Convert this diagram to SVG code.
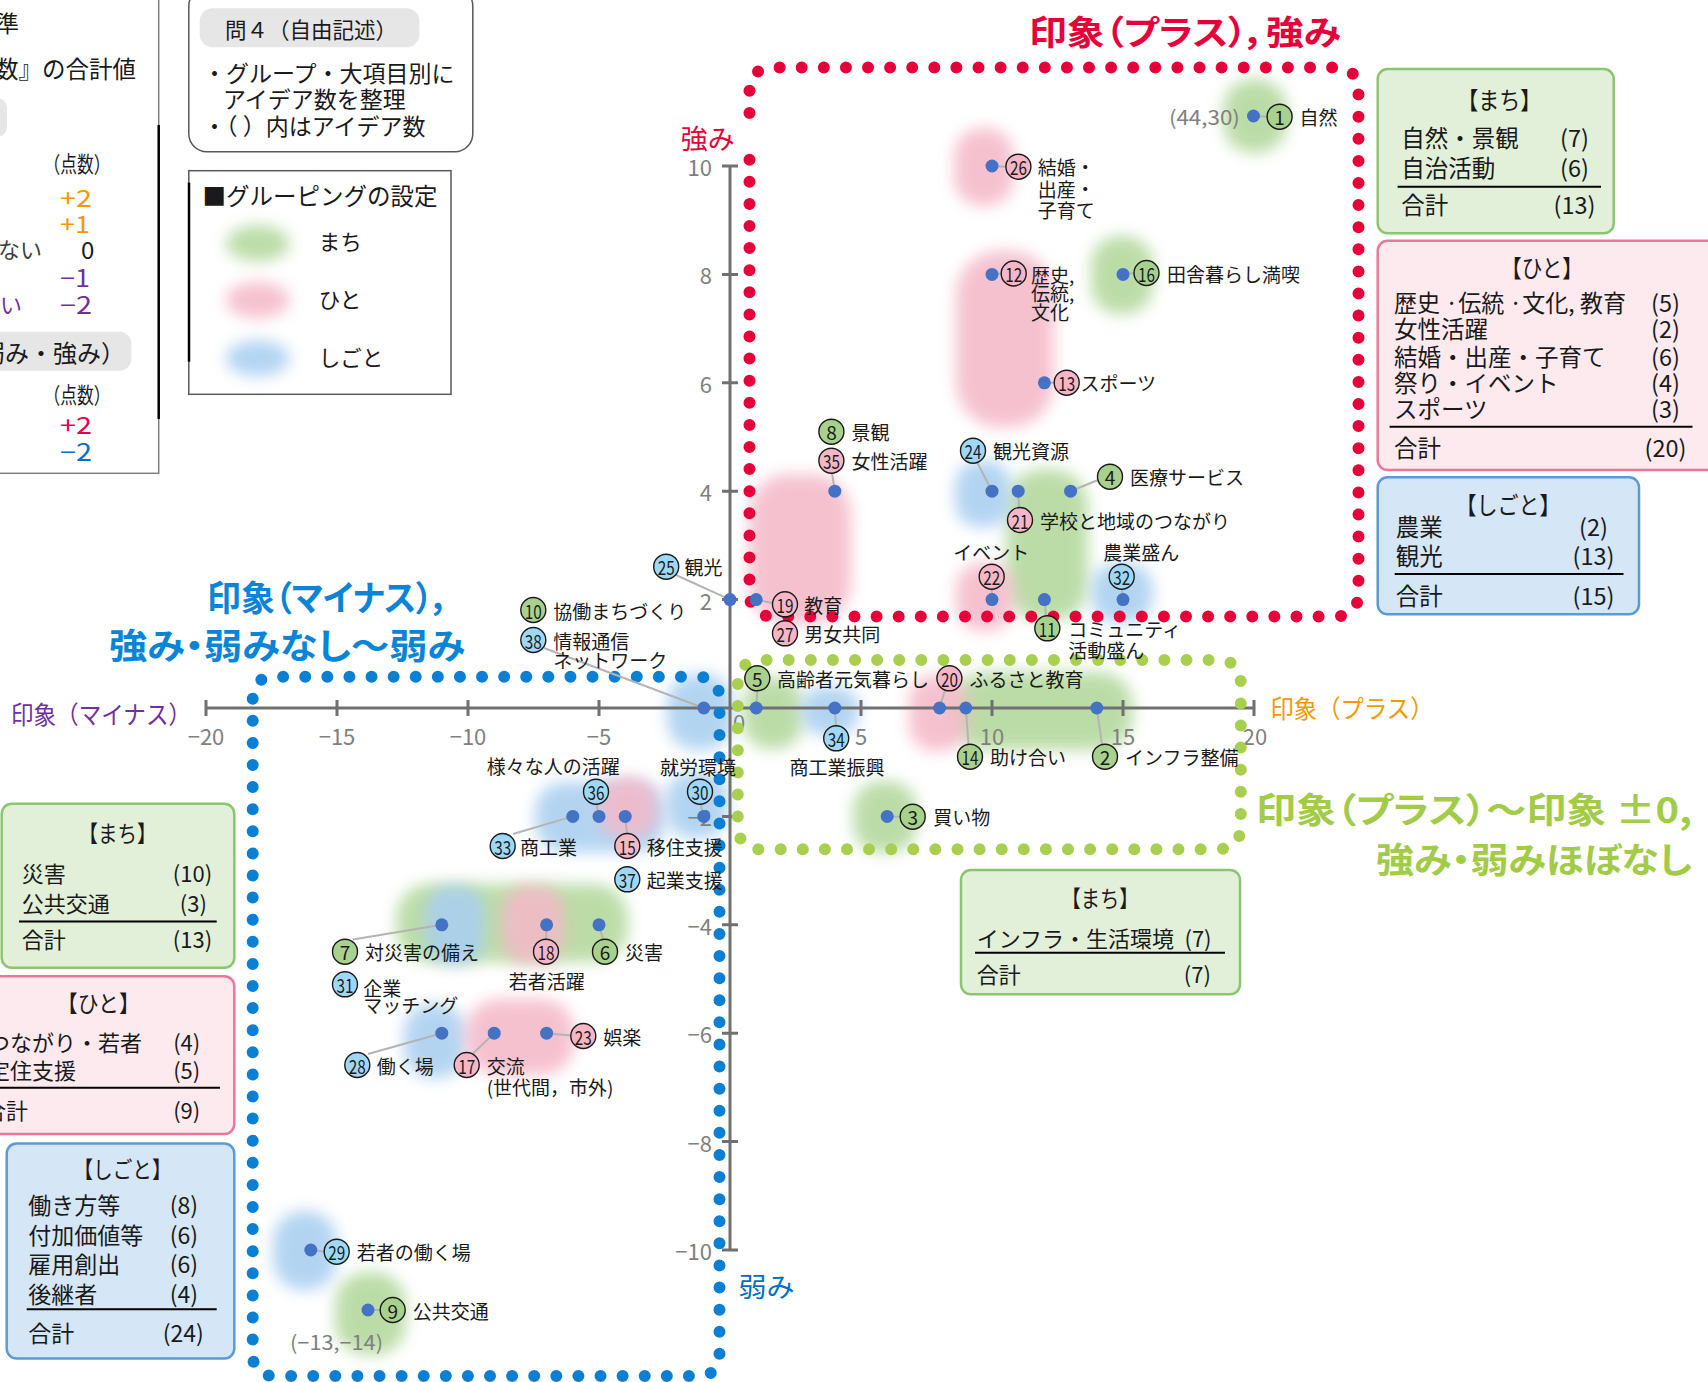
<svg xmlns="http://www.w3.org/2000/svg" width="1708" height="1382" viewBox="0 0 1708 1382">
<defs>
<filter id="bl" x="-60%" y="-60%" width="220%" height="220%"><feGaussianBlur stdDeviation="7.5"/></filter>
<style>
text{font-family:"Noto Sans CJK JP","Noto Sans",sans-serif;dominant-baseline:central;fill:#1a1a1a}
.l{font-size:19px}
.n{font-size:19px;text-anchor:middle}
.cg{fill:#a9d18e;stroke:#1a1a1a;stroke-width:1.4}
.cp{fill:#f5b7c7;stroke:#1a1a1a;stroke-width:1.4}
.cb{fill:#9fd8f6;stroke:#1a1a1a;stroke-width:1.4}
.pt{fill:#4472c4}
.ld{stroke:#b4b4b4;stroke-width:2;fill:none}
.ax{stroke:#707070;stroke-width:3;fill:none}
.tk{fill:#808080;font-size:22px}
.gy{fill:#808080;font-size:20px}
.bg{fill:#b3d89c}.bp{fill:#f4b9c9}.bb{fill:#a9cff0}
.blob{filter:url(#bl);opacity:0.88}
.ttl{font-weight:700;font-feature-settings:"palt"}
.bx{font-size:23.5px}
.bs{font-size:22px}
.ctr{text-anchor:middle}
.dr{fill:none;stroke:#e60039;stroke-width:12;stroke-linecap:round;stroke-dasharray:0 22.1}
.db{fill:none;stroke:#0a7fd3;stroke-width:12;stroke-linecap:round;stroke-dasharray:0 22.1}
.dg{fill:none;stroke:#a8cf4f;stroke-width:12;stroke-linecap:round;stroke-dasharray:0 22.1}
</style>
</defs>
<rect width="1708" height="1382" fill="#fff"/>

<!-- blobs -->
<g id="blobs">
<rect class="blob bg" x="1223" y="79" width="64" height="74" rx="30"/>
<rect class="blob bp" x="954" y="128" width="60" height="78" rx="28"/>
<rect class="blob bp" x="956" y="251" width="98" height="176" rx="44"/>
<rect class="blob bg" x="1091" y="236" width="62" height="78" rx="28"/>
<rect class="blob bp" x="749" y="474" width="102" height="150" rx="40"/>
<rect class="blob bg" x="1006" y="469" width="82" height="152" rx="36"/>
<rect class="blob bb" x="955" y="461" width="56" height="66" rx="24"/>
<rect class="blob bp" x="956" y="563" width="58" height="68" rx="26"/>
<rect class="blob bb" x="1091" y="563" width="62" height="60" rx="26"/>
<rect class="blob bg" x="951" y="672" width="182" height="78" rx="34"/>
<rect class="blob bp" x="909" y="675" width="58" height="76" rx="26"/>
<rect class="blob bg" x="743" y="677" width="60" height="72" rx="27"/>
<rect class="blob bb" x="801" y="687" width="58" height="48" rx="22"/>
<rect class="blob bg" x="853" y="781" width="64" height="72" rx="28"/>
<rect class="blob bb" x="667" y="674" width="66" height="76" rx="30"/>
<rect class="blob bb" x="535" y="782" width="130" height="70" rx="30"/>
<rect class="blob bb" x="666" y="772" width="62" height="66" rx="26"/>
<rect class="blob bp" x="599" y="777" width="58" height="62" rx="26"/>
<rect class="blob bg" x="396" y="884" width="232" height="78" rx="34"/>
<rect class="blob bb" x="425" y="886" width="60" height="78" rx="26"/>
<rect class="blob bp" x="502" y="886" width="62" height="78" rx="26"/>
<rect class="blob bb" x="404" y="1004" width="62" height="74" rx="28"/>
<rect class="blob bp" x="465" y="999" width="110" height="76" rx="34"/>
<rect class="blob bb" x="273" y="1211" width="64" height="79" rx="30"/>
<rect class="blob bg" x="335" y="1272" width="71" height="83" rx="32"/>
</g>

<!-- scoring legend (cut at left) -->
<g id="legend-scoring">
<rect x="-20" y="-20" width="178.7" height="493.3" fill="none" stroke="#7f7f7f" stroke-width="1.5"/>
<line x1="158.7" y1="125" x2="158.7" y2="419" stroke="#000" stroke-width="2.5"/>
<text x="-4" y="22" font-size="23">準</text>
<text x="-5" y="68" font-size="23.5">数』の合計値</text>
<rect x="-20" y="98" width="27" height="39" rx="10" fill="#e6e6e6"/>
<text x="43.6" y="161.7" font-size="22" textLength="67" lengthAdjust="spacingAndGlyphs">（点数）</text>
<text x="60" y="196.7" font-size="24" style="fill:#f39800" textLength="32" lengthAdjust="spacingAndGlyphs">+2</text>
<text x="60" y="222.7" font-size="24" style="fill:#f39800" textLength="30" lengthAdjust="spacingAndGlyphs">+1</text>
<text x="-2" y="248" font-size="22" style="fill:#404040">ない</text>
<text x="81" y="248" font-size="24">0</text>
<text x="60" y="276" font-size="24" style="fill:#7030a0" textLength="30" lengthAdjust="spacingAndGlyphs">−1</text>
<text x="0" y="303" font-size="22" style="fill:#7030a0">い</text>
<text x="60" y="303" font-size="24" style="fill:#7030a0" textLength="32" lengthAdjust="spacingAndGlyphs">−2</text>
<rect x="-20" y="331.7" width="151.4" height="39" rx="12" fill="#e6e6e6"/>
<text x="-19" y="351.7" font-size="24">弱み・強み）</text>
<text x="43.6" y="393" font-size="22" textLength="67" lengthAdjust="spacingAndGlyphs">（点数）</text>
<text x="60" y="423" font-size="24" style="fill:#e6004c" textLength="32" lengthAdjust="spacingAndGlyphs">+2</text>
<text x="60" y="450" font-size="24" style="fill:#0070c0" textLength="32" lengthAdjust="spacingAndGlyphs">−2</text>
</g>

<!-- Q4 box -->
<g id="box-q4">
<rect x="188.8" y="-12" width="284" height="163.7" rx="18" fill="#fff" stroke="#595959" stroke-width="1.5"/>
<rect x="199.7" y="8.3" width="219.7" height="39" rx="13" fill="#e6e6e6"/>
<text x="225" y="28.3" font-size="22" textLength="172" lengthAdjust="spacingAndGlyphs">問４（自由記述）</text>
<text x="203" y="71.7" font-size="23">・グループ・大項目別に</text>
<text x="223" y="98.3" font-size="23">アイデア数を整理</text>
<text x="203" y="125" font-size="23">・（ ）内はアイデア数</text>
</g>

<!-- grouping legend -->
<g id="legend-grouping">
<rect x="188.8" y="170.7" width="262.2" height="223.6" fill="#fff" stroke="#595959" stroke-width="1.5"/>
<line x1="189" y1="182.7" x2="189" y2="361.7" stroke="#000" stroke-width="2.5"/>
<text x="202.6" y="195" font-size="23.5">■グルーピングの設定</text>
<ellipse class="blob bg" cx="257.8" cy="243.3" rx="32" ry="18"/>
<ellipse class="blob bp" cx="257.8" cy="300" rx="32" ry="18"/>
<ellipse class="blob bb" cx="257.8" cy="358.3" rx="32" ry="18"/>
<text x="318.8" y="240" font-size="21.5">まち</text>
<text x="318.8" y="298" font-size="21.5">ひと</text>
<text x="318.8" y="356.7" font-size="21.5">しごと</text>
</g>

<!-- titles -->
<g id="titles">
<text class="ttl" x="1029" y="30" font-size="34" style="fill:#e60039" textLength="312" lengthAdjust="spacingAndGlyphs">印象（プラス），強み</text>
<text class="ttl" x="207" y="595" font-size="35" style="fill:#0a84d6" textLength="243" lengthAdjust="spacingAndGlyphs">印象（マイナス），</text>
<text class="ttl" x="109" y="643" font-size="35" style="fill:#0a84d6" textLength="356" lengthAdjust="spacingAndGlyphs">強み・弱みなし～弱み</text>
<text class="ttl" x="1256" y="807" font-size="35" style="fill:#a2cb48" textLength="436" lengthAdjust="spacingAndGlyphs">印象（プラス）～印象 ±0,</text>
<text class="ttl" x="1376" y="857" font-size="35" style="fill:#a2cb48" textLength="316" lengthAdjust="spacingAndGlyphs">強み・弱みほぼなし</text>
</g>

<!-- axes -->
<g id="axes">
<path class="ax" d="M206 708H1254M730 166V1250"/>
<path class="ax" stroke-width="2" d="M206 700V716M337 700V716M468 700V716M599 700V716M861 700V716M992 700V716M1123 700V716M1254 700V716M722 166H738M722 274.4H738M722 382.8H738M722 491.2H738M722 599.6H738M722 816.4H738M722 924.8H738M722 1033.2H738M722 1141.6H738M722 1250H738"/>
<text class="tk ctr" x="206" y="735">−20</text>
<text class="tk ctr" x="337" y="735">−15</text>
<text class="tk ctr" x="468" y="735">−10</text>
<text class="tk ctr" x="599" y="735">−5</text>
<text class="tk ctr" x="739" y="721">0</text>
<text class="tk ctr" x="861" y="735">5</text>
<text class="tk ctr" x="992" y="735">10</text>
<text class="tk ctr" x="1123" y="735">15</text>
<text class="tk ctr" x="1255" y="735">20</text>
<text class="tk" x="712" y="166" text-anchor="end">10</text>
<text class="tk" x="712" y="274.4" text-anchor="end">8</text>
<text class="tk" x="712" y="382.8" text-anchor="end">6</text>
<text class="tk" x="712" y="491.2" text-anchor="end">4</text>
<text class="tk" x="712" y="599.6" text-anchor="end">2</text>
<text class="tk" x="712" y="816.4" text-anchor="end">−2</text>
<text class="tk" x="712" y="924.8" text-anchor="end">−4</text>
<text class="tk" x="712" y="1033.2" text-anchor="end">−6</text>
<text class="tk" x="712" y="1141.6" text-anchor="end">−8</text>
<text class="tk" x="712" y="1250" text-anchor="end">−10</text>
<text x="680.7" y="137" font-size="27" style="fill:#e60039" textLength="54" lengthAdjust="spacingAndGlyphs">強み</text>
<text x="738.5" y="1285" font-size="27" style="fill:#0070c0" textLength="56" lengthAdjust="spacingAndGlyphs">弱み</text>
<text x="11" y="713" font-size="25" style="fill:#7030a0" textLength="180" lengthAdjust="spacingAndGlyphs">印象（マイナス）</text>
<text x="1270.5" y="707" font-size="25" style="fill:#f39800" textLength="163" lengthAdjust="spacingAndGlyphs">印象（プラス）</text>
</g>

<!-- dotted regions -->
<g id="regions">
<path class="dr" d="M749.5 159.7V592.5Q749.5 616.5 773.5 616.5H1334.5Q1358.5 616.5 1358.5 592.5V91.5Q1358.5 67.5 1334.5 67.5H773.5Q749.5 67.5 749.5 91.5V116"/>
<path class="db" d="M252.7 698.7V1354Q252.7 1376 274.7 1376H697.5Q719.5 1376 719.5 1354V698.7Q719.5 676.7 697.5 676.7H274.7Q252.7 676.7 252.7 698.7"/>
<path class="dg" d="M737.8 684V825.3Q737.8 849.3 761.8 849.3H1216.8Q1240.8 849.3 1240.8 825.3V684Q1240.8 660 1216.8 660H761.8Q737.8 660 737.8 684"/>
</g>

<!-- summary boxes -->
<g id="box-machi-top">
<rect x="1377.7" y="69" width="236" height="164.3" rx="10" fill="#e2efd9" stroke="#8cc56f" stroke-width="2.5"/>
<text class="ctr" x="1499.3" y="98.3" font-size="24" textLength="84" lengthAdjust="spacingAndGlyphs">【まち】</text>
<text class="bx" x="1401.3" y="136.7">自然・景観</text>
<text class="bx ctr" x="1574.5" y="136.7">(7)</text>
<text class="bx" x="1401.3" y="166.7">自治活動</text>
<text class="bx ctr" x="1574.5" y="166.7">(6)</text>
<line x1="1397.6" y1="186.7" x2="1601" y2="186.7" stroke="#000" stroke-width="2"/>
<text class="bx" x="1401.3" y="204">合計</text>
<text class="bx ctr" x="1574.5" y="204">(13)</text>
</g>
<g id="box-hito-top">
<rect x="1377.7" y="240.7" width="340" height="229.3" rx="10" fill="#fdeaef" stroke="#e9789c" stroke-width="2.5"/>
<text class="ctr" x="1542" y="266.7" font-size="24" textLength="82" lengthAdjust="spacingAndGlyphs">【ひと】</text>
<text class="bx" x="1394" y="301.7" textLength="232" lengthAdjust="spacingAndGlyphs">歴史 ·伝統 ·文化, 教育</text>
<text class="bx ctr" x="1665.5" y="301.7">(5)</text>
<text class="bx" x="1394" y="328.3">女性活躍</text>
<text class="bx ctr" x="1665.5" y="328.3">(2)</text>
<text class="bx" x="1394" y="356">結婚・出産・子育て</text>
<text class="bx ctr" x="1665.5" y="356">(6)</text>
<text class="bx" x="1394" y="381.7">祭り・イベント</text>
<text class="bx ctr" x="1665.5" y="381.7">(4)</text>
<text class="bx" x="1394" y="408.3">スポーツ</text>
<text class="bx ctr" x="1665.5" y="408.3">(3)</text>
<line x1="1389.6" y1="426.7" x2="1692.5" y2="426.7" stroke="#000" stroke-width="2"/>
<text class="bx" x="1394" y="446.7">合計</text>
<text class="bx ctr" x="1665.5" y="446.7">(20)</text>
</g>
<g id="box-shigoto-top">
<rect x="1377.7" y="477.3" width="261.3" height="137" rx="10" fill="#d5e6f6" stroke="#5b9bd5" stroke-width="2.5"/>
<text class="ctr" x="1508" y="503.3" font-size="24" textLength="105" lengthAdjust="spacingAndGlyphs">【しごと】</text>
<text class="bx" x="1395.8" y="526">農業</text>
<text class="bx ctr" x="1593.5" y="526">(2)</text>
<text class="bx" x="1395.8" y="555">観光</text>
<text class="bx ctr" x="1593.5" y="555">(13)</text>
<line x1="1394.7" y1="574" x2="1623.5" y2="574" stroke="#000" stroke-width="2"/>
<text class="bx" x="1395.8" y="595">合計</text>
<text class="bx ctr" x="1593.5" y="595">(15)</text>
</g>
<g id="box-machi-mid">
<rect x="961" y="870" width="279" height="124.3" rx="10" fill="#e2efd9" stroke="#8cc56f" stroke-width="2.5"/>
<text class="ctr" x="1100" y="896.7" font-size="23" textLength="77" lengthAdjust="spacingAndGlyphs">【まち】</text>
<text class="bs" x="976.7" y="936.7">インフラ・生活環境</text>
<text class="bs ctr" x="1198" y="936.7">(7)</text>
<line x1="975" y1="952.7" x2="1225" y2="952.7" stroke="#000" stroke-width="2"/>
<text class="bs" x="976.7" y="973.3">合計</text>
<text class="bs ctr" x="1197.4" y="973.3">(7)</text>
</g>
<g id="box-machi-left">
<rect x="1.7" y="803.7" width="232.6" height="164.1" rx="10" fill="#e2efd9" stroke="#8cc56f" stroke-width="2.5"/>
<text class="ctr" x="117.5" y="831.6" font-size="23" textLength="78" lengthAdjust="spacingAndGlyphs">【まち】</text>
<text class="bs" x="21.7" y="872.4">災害</text>
<text class="bs ctr" x="192.5" y="872.4">(10)</text>
<text class="bs" x="21.7" y="902">公共交通</text>
<text class="bs ctr" x="193.3" y="902">(3)</text>
<line x1="19" y1="921.4" x2="216.7" y2="921.4" stroke="#000" stroke-width="2"/>
<text class="bs" x="21.7" y="938">合計</text>
<text class="bs ctr" x="192.5" y="938">(13)</text>
</g>
<g id="box-hito-left">
<rect x="-20" y="976.3" width="254.3" height="157.7" rx="10" fill="#fdeaef" stroke="#e9789c" stroke-width="2.5"/>
<text class="ctr" x="98.3" y="1002.3" font-size="23" textLength="83" lengthAdjust="spacingAndGlyphs">【ひと】</text>
<text class="bs" x="-12" y="1040.5">つながり・若者</text>
<text class="bs ctr" x="186.7" y="1040.5">(4)</text>
<text class="bs" x="-12" y="1069">定住支援</text>
<text class="bs ctr" x="186.7" y="1069">(5)</text>
<line x1="-5" y1="1087.7" x2="220" y2="1087.7" stroke="#000" stroke-width="2"/>
<text class="bs" x="-16" y="1108.8">合計</text>
<text class="bs ctr" x="186.7" y="1108.8">(9)</text>
</g>
<g id="box-shigoto-left">
<rect x="6.7" y="1143.4" width="227.6" height="215.2" rx="10" fill="#d5e6f6" stroke="#5b9bd5" stroke-width="2.5"/>
<text class="ctr" x="122.5" y="1167.5" font-size="23" textLength="98" lengthAdjust="spacingAndGlyphs">【しごと】</text>
<text x="28.3" y="1203.9" font-size="23">働き方等</text>
<text class="ctr" x="184" y="1203.9" font-size="23">(8)</text>
<text x="28.3" y="1233.6" font-size="23">付加価値等</text>
<text class="ctr" x="184" y="1233.6" font-size="23">(6)</text>
<text x="28.3" y="1263.3" font-size="23">雇用創出</text>
<text class="ctr" x="184" y="1263.3" font-size="23">(6)</text>
<text x="28.3" y="1293" font-size="23">後継者</text>
<text class="ctr" x="184" y="1293" font-size="23">(4)</text>
<line x1="26.7" y1="1309.3" x2="216.7" y2="1309.3" stroke="#000" stroke-width="2"/>
<text x="28.3" y="1331.6" font-size="23">合計</text>
<text class="ctr" x="183.3" y="1331.6" font-size="23">(24)</text>
</g>

<!-- connectors (leader lines) -->
<g id="connectors">
<path class="ld" d="M1253.5 116L1267 116.7"/>
<path class="ld" d="M992 166L1006 166.7"/>
<path class="ld" d="M992 274.4L1001 273.5"/>
<path class="ld" d="M1044.4 382.8L1054 382.7"/>
<path class="ld" d="M1123 274.4L1134 273"/>
<path class="ld" d="M834.8 491.2L832 473"/>
<path class="ld" d="M992 491.2L977 462"/>
<path class="ld" d="M1018.2 491.2L1019 507.5"/>
<path class="ld" d="M1070.6 491.2L1098 480"/>
<path class="ld" d="M730 599.6L676 575"/>
<path class="ld" d="M756.2 599.6L772.5 603"/>
<path class="ld" d="M992 599.6L991.7 589"/>
<path class="ld" d="M1123 599.6L1122 589"/>
<path class="ld" d="M1044.4 599.6L1046 616"/>
<path class="ld" d="M703.8 708L544 648"/>
<path class="ld" d="M756.2 708L757.3 691"/>
<path class="ld" d="M939.6 708L945 690"/>
<path class="ld" d="M834.8 708L836 726"/>
<path class="ld" d="M965.8 708L968.5 744"/>
<path class="ld" d="M1096.8 708L1102 744.5"/>
<path class="ld" d="M887.2 816.4L900 816.7"/>
<path class="ld" d="M599 816.4L596.5 804"/>
<path class="ld" d="M703.8 816.4L700.5 804"/>
<path class="ld" d="M572.8 816.4L513 834"/>
<path class="ld" d="M625.2 816.4L627 833.5"/>
<path class="ld" d="M441.8 924.8L353 939.5"/>
<path class="ld" d="M546.6 924.8L546 939"/>
<path class="ld" d="M599 924.8L603 940"/>
<path class="ld" d="M441.8 1033.2L368 1054"/>
<path class="ld" d="M494.2 1033.2L473 1053.5"/>
<path class="ld" d="M546.6 1033.2L571 1035.5"/>
<path class="ld" d="M310.8 1250L324 1251.5"/>
<path class="ld" d="M368 1310L380 1310"/>
</g>

<!-- nodes -->
<g id="n1"><circle class="pt" cx="1253.5" cy="116" r="6.5"/><circle class="cg" cx="1279.6" cy="116.7" r="12.5"/><text class="n" x="1279.6" y="116.7">1</text><text class="l" x="1299.6" y="116.7">自然</text><text class="gy" x="1168.9" y="116.7" textLength="71" lengthAdjust="spacingAndGlyphs">(44,30)</text></g>
<g id="n26"><circle class="pt" cx="992" cy="166" r="6.5"/><circle class="cp" cx="1018.4" cy="166.7" r="12.5"/><text class="n" x="1018.4" y="166.7" textLength="17" lengthAdjust="spacingAndGlyphs">26</text><text class="l" x="1037.7" y="166.7">結婚・</text><text class="l" x="1037.7" y="188">出産・</text><text class="l" x="1037.7" y="209.3">子育て</text></g>
<g id="n12"><circle class="pt" cx="992" cy="274.4" r="6.5"/><circle class="cp" cx="1013.7" cy="273.5" r="12.5"/><text class="n" x="1013.7" y="273.5" textLength="17" lengthAdjust="spacingAndGlyphs">12</text><text class="l" x="1031" y="274">歴史,</text><text class="l" x="1031" y="292.7">伝統,</text><text class="l" x="1031" y="311.7">文化</text></g>
<g id="n13"><circle class="pt" cx="1044.4" cy="382.8" r="6.5"/><circle class="cp" cx="1066.7" cy="382.7" r="12.5"/><text class="n" x="1066.7" y="382.7" textLength="17" lengthAdjust="spacingAndGlyphs">13</text><text class="l" x="1080.5" y="382.7">スポーツ</text></g>
<g id="n16"><circle class="pt" cx="1123" cy="274.4" r="6.5"/><circle class="cg" cx="1146.5" cy="273" r="12.5"/><text class="n" x="1146.5" y="273" textLength="17" lengthAdjust="spacingAndGlyphs">16</text><text class="l" x="1167" y="273">田舎暮らし満喫</text></g>
<g id="n8"><circle class="cg" cx="831.4" cy="431.7" r="12.5"/><text class="n" x="831.4" y="431.7">8</text><text class="l" x="851.4" y="431.7">景観</text></g>
<g id="n35"><circle class="pt" cx="834.8" cy="491.2" r="6.5"/><circle class="cp" cx="831.4" cy="460.7" r="12.5"/><text class="n" x="831.4" y="460.7" textLength="17" lengthAdjust="spacingAndGlyphs">35</text><text class="l" x="851.4" y="460.7">女性活躍</text></g>
<g id="n24"><circle class="pt" cx="992" cy="491.2" r="6.5"/><circle class="cb" cx="973" cy="450.7" r="12.5"/><text class="n" x="973" y="450.7" textLength="17" lengthAdjust="spacingAndGlyphs">24</text><text class="l" x="993" y="450.7">観光資源</text></g>
<g id="n21"><circle class="pt" cx="1018.2" cy="491.2" r="6.5"/><circle class="cp" cx="1020" cy="520" r="12.5"/><text class="n" x="1020" y="520" textLength="17" lengthAdjust="spacingAndGlyphs">21</text><text class="l" x="1040" y="520">学校と地域のつながり</text></g>
<g id="n4"><circle class="pt" cx="1070.6" cy="491.2" r="6.5"/><circle class="cg" cx="1110" cy="476.7" r="12.5"/><text class="n" x="1110" y="476.7">4</text><text class="l" x="1130" y="476.7">医療サービス</text></g>
<g id="n22"><circle class="pt" cx="992" cy="599.6" r="6.5"/><text class="l" x="953.3" y="551.7">イベント</text><circle class="cp" cx="991.7" cy="576.7" r="12.5"/><text class="n" x="991.7" y="576.7" textLength="17" lengthAdjust="spacingAndGlyphs">22</text></g>
<g id="n32"><circle class="pt" cx="1123" cy="599.6" r="6.5"/><text class="l" x="1103.3" y="551.7">農業盛ん</text><circle class="cb" cx="1121.7" cy="576.7" r="12.5"/><text class="n" x="1121.7" y="576.7" textLength="17" lengthAdjust="spacingAndGlyphs">32</text></g>
<g id="n11"><circle class="pt" cx="1044.4" cy="599.6" r="6.5"/><circle class="cg" cx="1047.3" cy="628.3" r="12.5"/><text class="n" x="1047.3" y="628.3" textLength="17" lengthAdjust="spacingAndGlyphs">11</text><text class="l" x="1068.3" y="628.3">コミュニティ</text><text class="l" x="1068.3" y="649.5">活動盛ん</text></g>
<g id="n25"><circle class="pt" cx="730" cy="599.6" r="6.5"/><circle class="cb" cx="666.2" cy="566.7" r="12.5"/><text class="n" x="666.2" y="566.7" textLength="17" lengthAdjust="spacingAndGlyphs">25</text><text class="l" x="684.4" y="566.7">観光</text></g>
<g id="n19"><circle class="pt" cx="756.2" cy="599.6" r="6.5"/><circle class="cp" cx="785" cy="604.3" r="12.5"/><text class="n" x="785" y="604.3" textLength="17" lengthAdjust="spacingAndGlyphs">19</text><text class="l" x="804.2" y="604.3">教育</text></g>
<g id="n27"><circle class="cp" cx="785" cy="633.3" r="12.5"/><text class="n" x="785" y="633.3" textLength="17" lengthAdjust="spacingAndGlyphs">27</text><text class="l" x="804.2" y="633.3">男女共同</text></g>
<g id="n10"><circle class="cg" cx="533.3" cy="610" r="12.5"/><text class="n" x="533.3" y="610" textLength="17" lengthAdjust="spacingAndGlyphs">10</text><text class="l" x="553.3" y="610">協働まちづくり</text></g>
<g id="n38"><circle class="pt" cx="703.8" cy="708" r="6.5"/><circle class="cb" cx="533.3" cy="640" r="12.5"/><text class="n" x="533.3" y="640" textLength="17" lengthAdjust="spacingAndGlyphs">38</text><text class="l" x="553.3" y="640">情報通信</text><text class="l" x="553.3" y="659.3">ネットワーク</text></g>
<g id="n5"><circle class="pt" cx="756.2" cy="708" r="6.5"/><circle class="cg" cx="757.3" cy="678.3" r="12.5"/><text class="n" x="757.3" y="678.3">5</text><text class="l" x="777" y="678.3">高齢者元気暮らし</text></g>
<g id="n20"><circle class="pt" cx="939.6" cy="708" r="6.5"/><circle class="cp" cx="949.4" cy="678.3" r="12.5"/><text class="n" x="949.4" y="678.3" textLength="17" lengthAdjust="spacingAndGlyphs">20</text><text class="l" x="969.4" y="678.3">ふるさと教育</text></g>
<g id="n34"><circle class="pt" cx="834.8" cy="708" r="6.5"/><circle class="cb" cx="836.2" cy="738.3" r="12.5"/><text class="n" x="836.2" y="738.3" textLength="17" lengthAdjust="spacingAndGlyphs">34</text><text class="l ctr" x="836.9" y="766.7">商工業振興</text></g>
<g id="n14"><circle class="pt" cx="965.8" cy="708" r="6.5"/><circle class="cg" cx="970" cy="756.7" r="12.5"/><text class="n" x="970" y="756.7" textLength="17" lengthAdjust="spacingAndGlyphs">14</text><text class="l" x="990" y="756.7">助け合い</text></g>
<g id="n2"><circle class="pt" cx="1096.8" cy="708" r="6.5"/><circle class="cg" cx="1105" cy="756.7" r="12.5"/><text class="n" x="1105" y="756.7">2</text><text class="l" x="1125" y="756.7">インフラ整備</text></g>
<g id="n3"><circle class="pt" cx="887.2" cy="816.4" r="6.5"/><circle class="cg" cx="912.7" cy="816.7" r="12.5"/><text class="n" x="912.7" y="816.7">3</text><text class="l" x="933.3" y="816.7">買い物</text></g>
<g id="n36"><circle class="pt" cx="599" cy="816.4" r="6.5"/><text class="l" x="486.7" y="765">様々な人の活躍</text><circle class="cb" cx="596" cy="791.7" r="12.5"/><text class="n" x="596" y="791.7" textLength="17" lengthAdjust="spacingAndGlyphs">36</text></g>
<g id="n30"><circle class="pt" cx="703.8" cy="816.4" r="6.5"/><text class="l" x="660" y="766.7">就労環境</text><circle class="cb" cx="700" cy="791.7" r="12.5"/><text class="n" x="700" y="791.7" textLength="17" lengthAdjust="spacingAndGlyphs">30</text></g>
<g id="n33"><circle class="pt" cx="572.8" cy="816.4" r="6.5"/><circle class="cb" cx="502.7" cy="846" r="12.5"/><text class="n" x="502.7" y="846" textLength="17" lengthAdjust="spacingAndGlyphs">33</text><text class="l" x="520" y="846">商工業</text></g>
<g id="n15"><circle class="pt" cx="625.2" cy="816.4" r="6.5"/><circle class="cp" cx="627.3" cy="846" r="12.5"/><text class="n" x="627.3" y="846" textLength="17" lengthAdjust="spacingAndGlyphs">15</text><text class="l" x="646.7" y="846">移住支援</text></g>
<g id="n37"><circle class="cb" cx="627.3" cy="879.3" r="12.5"/><text class="n" x="627.3" y="879.3" textLength="17" lengthAdjust="spacingAndGlyphs">37</text><text class="l" x="646.7" y="879.3">起業支援</text></g>
<g id="n7"><circle class="pt" cx="441.8" cy="924.8" r="6.5"/><circle class="cg" cx="345" cy="951.7" r="12.5"/><text class="n" x="345" y="951.7">7</text><text class="l" x="365" y="951.7">対災害の備え</text></g>
<g id="n18"><circle class="pt" cx="546.6" cy="924.8" r="6.5"/><circle class="cp" cx="546" cy="951.7" r="12.5"/><text class="n" x="546" y="951.7" textLength="17" lengthAdjust="spacingAndGlyphs">18</text><text class="l ctr" x="546.7" y="980">若者活躍</text></g>
<g id="n6"><circle class="pt" cx="599" cy="924.8" r="6.5"/><circle class="cg" cx="605" cy="951.7" r="12.5"/><text class="n" x="605" y="951.7">6</text><text class="l" x="625" y="951.7">災害</text></g>
<g id="n31"><circle class="cb" cx="345" cy="984.3" r="12.5"/><text class="n" x="345" y="984.3" textLength="17" lengthAdjust="spacingAndGlyphs">31</text><text class="l" x="363.3" y="987.5">企業</text><text class="l" x="363.3" y="1004">マッチング</text></g>
<g id="n28"><circle class="pt" cx="441.8" cy="1033.2" r="6.5"/><circle class="cb" cx="357.3" cy="1065" r="12.5"/><text class="n" x="357.3" y="1065" textLength="17" lengthAdjust="spacingAndGlyphs">28</text><text class="l" x="376.7" y="1065">働く場</text></g>
<g id="n17"><circle class="pt" cx="494.2" cy="1033.2" r="6.5"/><circle class="cp" cx="466.7" cy="1065" r="12.5"/><text class="n" x="466.7" y="1065" textLength="17" lengthAdjust="spacingAndGlyphs">17</text><text class="l" x="486.7" y="1065">交流</text><text class="l" x="486.7" y="1086.7">(世代間，市外)</text></g>
<g id="n23"><circle class="pt" cx="546.6" cy="1033.2" r="6.5"/><circle class="cp" cx="583.3" cy="1036" r="12.5"/><text class="n" x="583.3" y="1036" textLength="17" lengthAdjust="spacingAndGlyphs">23</text><text class="l" x="603.3" y="1036">娯楽</text></g>
<g id="n29"><circle class="pt" cx="310.8" cy="1250" r="6.5"/><circle class="cb" cx="336.7" cy="1251.7" r="12.5"/><text class="n" x="336.7" y="1251.7" textLength="17" lengthAdjust="spacingAndGlyphs">29</text><text class="l" x="356.7" y="1251.7">若者の働く場</text></g>
<g id="n9"><circle class="pt" cx="368" cy="1310" r="6.5"/><circle class="cg" cx="392.7" cy="1310" r="12.5"/><text class="n" x="392.7" y="1310">9</text><text class="l" x="412.7" y="1310">公共交通</text><text class="gy" x="290" y="1341.7" textLength="93" lengthAdjust="spacingAndGlyphs">(−13,−14)</text></g>
</svg>
